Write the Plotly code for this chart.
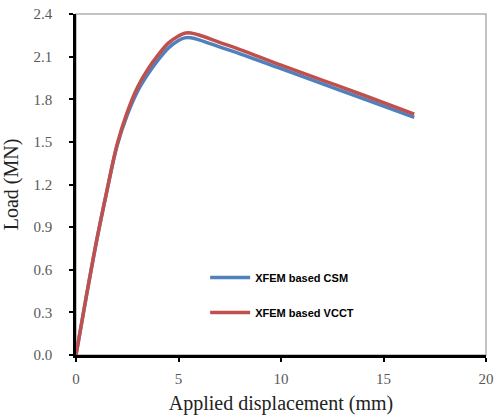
import plotly.graph_objects as go

disp = [0, 0.5, 1.0, 1.5, 2.0, 2.5, 3.0, 3.5, 4.0, 4.5, 5.0, 5.3, 5.6, 6.0, 7, 8, 10, 12, 14, 16.5]
load_csm = [0, 0.41, 0.80, 1.15, 1.47, 1.69, 1.855, 1.975, 2.075, 2.16, 2.213, 2.232, 2.233, 2.218, 2.168, 2.12, 2.015, 1.91, 1.805, 1.672]
load_vcct = [0, 0.41, 0.80, 1.15, 1.48, 1.71, 1.885, 2.01, 2.11, 2.195, 2.245, 2.265, 2.266, 2.252, 2.20, 2.15, 2.04, 1.935, 1.83, 1.695]

x_ticks = [0, 5, 10, 15, 20]
y_ticks = [0.0, 0.3, 0.6, 0.9, 1.2, 1.5, 1.8, 2.1, 2.4]
y_labels = ["0.0", "0.3", "0.6", "0.9", "1.2", "1.5", "1.8", "2.1", "2.4"]

fig = go.Figure()
fig.add_trace(go.Scatter(x=disp, y=load_csm, mode="lines", name="<b>XFEM based CSM</b>",
                         line=dict(color="#4F81BD", width=3.5, shape="spline", smoothing=1.0),
                         legendgroup="a"))
fig.add_trace(go.Scatter(x=disp, y=load_vcct, mode="lines", name="<b>XFEM based VCCT</b>",
                         line=dict(color="#C0504D", width=3.5, shape="spline", smoothing=1.0),
                         legendgroup="b"))

fig.add_shape(type="rect", xref="paper", yref="paper", x0=0, y0=0, x1=1, y1=1,
              line=dict(color="#b0b0b0", width=1.5), layer="below")

fig.update_layout(
    width=494, height=415,
    margin=dict(l=76, r=8, t=14, b=60, autoexpand=False),
    paper_bgcolor="white", plot_bgcolor="white",
    showlegend=True,
    legend=dict(x=0.315, y=0.27, xanchor="left", yanchor="top",
                bgcolor="rgba(0,0,0,0)", tracegroupgap=16,
                font=dict(family="Liberation Sans", size=11, color="black"),
                itemwidth=40),
    xaxis=dict(range=[0, 20], tickvals=x_ticks, ticktext=[str(v) for v in x_ticks],
               showgrid=False, zeroline=False, showline=True, linecolor="black", linewidth=2.5,
               ticks="outside", ticklen=4, tickwidth=2, tickcolor="black",
               ticklabelstandoff=4, automargin=False,
               tickfont=dict(family="Liberation Serif", size=15, color="#595959"),
               title=dict(text="Applied displacement (mm)", standoff=12,
                          font=dict(family="Liberation Serif", size=20, color="#222222"))),
    yaxis=dict(range=[0, 2.4], tickvals=y_ticks, ticktext=y_labels,
               showgrid=False, zeroline=False, showline=True, linecolor="black", linewidth=2.5,
               ticks="outside", ticklen=4, tickwidth=2, tickcolor="black",
               ticklabelstandoff=14, automargin=False,
               tickfont=dict(family="Liberation Serif", size=15, color="#595959"),
               title=dict(text="Load (MN)", standoff=10,
                          font=dict(family="Liberation Serif", size=20, color="#222222"))),
)

fig.write_html("out.html", config={"displayModeBar": False},
               post_script="document.body.style.margin='0';")
